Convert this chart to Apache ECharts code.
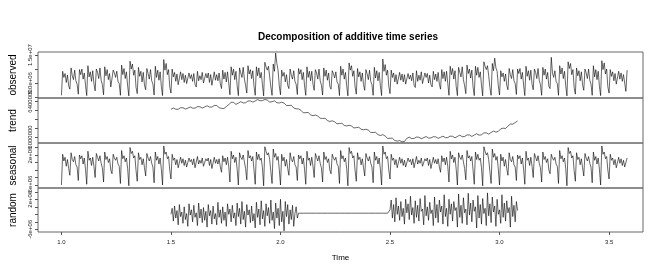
<!DOCTYPE html>
<html><head><meta charset="utf-8">
<script src="https://cdn.jsdelivr.net/npm/echarts@6/dist/echarts.min.js"></script>
<style>html,body{margin:0;padding:0;background:#fff}#c{width:667px;height:269px}</style>
</head><body><div id="c"></div>
<script>
// time series: start 1, frequency 182 (daily, half-year period)
const FREQ = 182, START = 1;
// observed (units of 1e5), 471 points
const observed = [
6,92,70,84,52,78,40, 28,104,76,62,96,58,46, 10,98,80,100,64,86,42, 5,112,72,90,56,94,48,
22,100,88,66,104,60,44, 8,108,76,98,62,84,36, 30,96,86,70,92,56,48, 6,114,80,102,66,90,40,
4,128,100,118,78,96,34, 12,106,74,92,54,88,42, 26,102,84,64,98,58,46, 7,110,70,96,60,90,38,
5,134,96,120,80,98,36, 14,100,72,88,56,82,44, 40,90,62,84,52,78,48, 46,86,66,80,56,84,44,
36,92,58,76,62,88,50, 48,84,68,86,52,80,42, 38,90,60,80,58,86,48, 30,96,64,88,54,90,50,
8,108,78,100,62,92,40, 5,104,86,70,106,64,42, 14,112,82,98,66,94,38, 6,108,76,104,68,88,44,
4,124,108,96,110,74,36, 6,118,92,157,120,96,40,
8,96,74,88,54,80,42, 30,100,78,64,94,56,46, 9,102,82,98,62,88,40, 6,108,70,92,58,92,46,
24,98,86,64,100,58,42, 7,104,74,96,60,86,38, 28,94,84,68,90,54,46, 5,110,78,100,64,88,40,
4,122,96,112,74,94,36, 10,102,72,90,56,86,44, 24,98,82,62,96,56,44, 6,106,68,94,58,88,40,
5,136,92,116,78,96,38, 12,96,70,86,54,80,46, 42,88,60,82,54,80,46, 44,84,64,78,58,86,42,
34,94,56,78,60,90,48, 46,86,70,84,50,78,44, 36,92,62,82,56,88,46, 28,98,66,90,56,92,48,
6,110,80,102,64,94,38, 5,106,88,72,108,62,40, 12,114,84,100,68,96,36, 5,110,78,106,70,90,42,
4,126,110,98,112,76,34, 6,120,94,139,104,92,40,
7,94,72,86,56,82,42, 26,102,80,66,98,58,48, 9,100,84,102,64,88,42, 5,110,74,94,60,96,46,
26,100,88,66,102,60,44, 6,106,78,100,64,88,38, 30,142,86,70,94,56,48, 6,112,82,104,66,92,40,
4,126,102,120,80,98,34, 10,104,76,94,58,90,44, 24,100,86,66,100,60,46, 6,112,72,98,62,92,38,
5,130,98,122,82,100,36, 14,98,74,90,58,84,46, 40,92,64,86,56,80,50,
20,96
];
// trend (units of 1e3), defined from index 91 to 379
const TREND_START = 91;
const trend = [
6308,6317,6322,6317,6308,6303,6308, 6316,6325,6330,6325,6315,6310,6315,
6320,6329,6334,6329,6320,6315,6320, 6327,6336,6341,6336,6326,6321,6326,
6333,6342,6347,6342,6332,6327,6332, 6340,6350,6356,6350,6334,6326,6322,
6318,6312,6316,6328,6338,6345,6358, 6378,6386,6392,6384,6372,6362,6366,
6376,6386,6392,6388,6378,6374,6380, 6390,6400,6406,6400,6392,6388,6394,
6400,6410,6416,6412,6402,6398,6404, 6410,6416,6418,6410,6396,6388,6392,
6392,6400,6402,6394,6380,6374,6378, 6380,6386,6386,6376,6360,6350,6352,
6350,6354,6352,6340,6322,6312,6312, 6310,6312,6308,6296,6278,6268,6270,
6270,6274,6272,6262,6246,6236,6236, 6240,6244,6242,6232,6218,6208,6210,
6206,6210,6208,6198,6182,6172,6172, 6176,6180,6178,6168,6154,6146,6148,
6150,6154,6152,6142,6128,6120,6122, 6126,6130,6130,6122,6108,6100,6102,
6104,6108,6108,6100,6086,6078,6080, 6082,6086,6086,6076,6060,6050,6050,
6050,6054,6052,6042,6026,6016,6016, 6024,6026,6022,6010,5994,5984,5984,
5986,5990,5986,5976,5960,5952,5954, 5958,5960,5954,5946,5940,5950,5970,
5985,5994,5998,5992,5982,5978,5984, 5990,5999,6003,5997,5986,5981,5987,
5992,6001,6005,5999,5988,5983,5989, 5994,6003,6007,6001,5990,5985,5991,
5996,6005,6009,6003,5992,5987,5993, 6000,6009,6013,6007,5996,5991,5998,
6006,6015,6020,6014,6003,5998,6005, 6014,6023,6028,6022,6011,6006,6013,
6022,6031,6036,6031,6020,6016,6024, 6036,6045,6050,6046,6036,6032,6040,
6050,6060,6066,6063,6054,6052,6062, 6078,6090,6098,6098,6092,6094,6106,
6120,6134,6144,6146,6142,6146,6160, 6170,6178
];
// seasonal figure, one period of 182 days (units of 1e5)
const seasonalFigure = [
-60,22,4,14,-10,8,-16, -34,26,8,2,16,-6,-12, -48,20,10,18,-4,12,-18, -58,30,6,12,-8,14,-10,
-40,24,14,4,18,-2,-14, -52,28,8,16,0,10,-20, -30,22,12,6,14,-4,-10, -56,32,10,18,2,12,-16,
-62,40,24,30,12,18,-22, -50,26,8,14,-6,10,-14, -36,24,12,4,16,-2,-12, -54,28,6,16,-4,12,-18,
-60,44,22,28,10,16,-20, -44,22,6,12,-6,8,-14, -14,14,-2,10,-8,6,-12, -10,12,2,8,-6,10,-14,
-16,16,-4,6,-2,12,-10, -12,10,4,12,-8,8,-16, -18,14,-2,8,-4,10,-12, -26,18,2,12,-6,14,-10,
-52,30,10,20,0,14,-18, -60,26,14,8,20,2,-16, -46,32,12,18,4,16,-20, -58,28,8,22,6,12,-14,
-62,42,30,20,26,8,-24, -56,36,14,24,6,16,-18
];
// random (units of 1e5), defined from index 91 to 379
const random = [
-20,-4,-38,2,-30,-10,-48, 6,-26,-14,-44,0,-34,-18, -52,8,-22,-8,-40,4,-28,
-16,-50,10,-30,-6,-42,-2, -36,-12,-54,6,-24,-10,-46, 2,-32,-18,-48,12,-28,-8,
-44,0,-36,-14,-52,8,-20, -6,-40,4,-30,-16,-50,10, -26,-4,-46,14,-34,-12,-54,
6,-22,-8,-42,2,-38,-18, -56,12,-28,-6,-48,16,-32, -10,-52,8,-24,-2,-44,18,
-36,-14,-58,10,-30,-4,-50, 20,-40,-12,-64,14,-26,6, -46,-8,-34,4,-52,-18,0, -30,
-17,-17,-17,-17,-17,-17,-17,-17,-17,-17,-17,-17,-17,-17,-17,-17,-17,-17,-17,-17,
-17,-17,-17,-17,-17,-17,-17,-17,-17,-17,-17,-17,-17,-17,-17,-17,-17,-17,-17,-17,
-17,-17,-17,-17,-17,-17,-17,-17,-17,-17,-17,-17,-17,-17,-17,-17,-17,-17,-17,-17,
-17,-17,-17,-17,-17,-17,-17,-17,-17,-17,-17,-17,-17,-17,-17,-17,
-8,18,-30,6,-40,24,-20, 2,-36,14,-26,-4,-46,20, -16,8,-34,28,-22,-2,-44,
16,-28,4,-38,22,-12,-6, -48,30,-24,0,-36,12,-18, -8,-50,26,-30,6,-42,18,
-14,2,-46,32,-26,-4,-52, 20,-20,8,-38,14,-10,-2, -54,34,-28,4,-44,24,-16,
-6,-48,36,-22,10,-40,18, -12,0,-56,30,-30,6,-46, 22,-18,-4,-50,37,-24,8,
-42,26,-14,2,-52,20,-20, -8,-44,32,-28,10,-38,16, -16,-2,-54,28,-26,4,-40, 14,-10
];
// axis ticks and labels
const xTicks = [1.0, 1.5, 2.0, 2.5, 3.0, 3.5];
const obsTicks = [0, 5e6, 1e7, 1.5e7];
const obsLabels = [[5e6, '5.0e+06'], [1.5e7, '1.5e+07']];
const trendTicks = [6.0e6, 6.1e6, 6.2e6, 6.3e6, 6.4e6];
const trendLabels = [[6.0e6, '6000000'], [6.4e6, '6400000']];
const seasTicks = [-6e6, -4e6, -2e6, 0, 2e6, 4e6];
const seasLabels = [[-6e6, '-6e+06'], [2e6, '2e+06']];
const randTicks = [-6e6, -4e6, -2e6, 0, 2e6, 4e6];
const randLabels = [[-6e6, '-6e+06'], [2e6, '2e+06']];

const tOf = i => START + i / FREQ;
const obsData = observed.map((v, i) => [tOf(i), v * 1e5]);
const trendData = trend.map((v, k) => [tOf(TREND_START + k), v * 1e3]);
const seasData = observed.map((_, i) => [tOf(i), seasonalFigure[i % FREQ] * 1e5]);
const randData = random.map((v, k) => [tOf(TREND_START + k), v * 1e5]);

const FONT = 'Liberation Sans';
const XMIN = 0.893, XMAX = 3.655;
const panels = [
  {name: 'observed', top: 52, height: 46, min: -3.6e5, max: 1.61e7, ticks: obsTicks, labels: obsLabels, data: obsData},
  {name: 'trend', top: 98, height: 45, min: 5.933e6, max: 6.433e6, ticks: trendTicks, labels: trendLabels, data: trendData},
  {name: 'seasonal', top: 143, height: 45, min: -6.8e6, max: 5.2e6, ticks: seasTicks, labels: seasLabels, data: seasData},
  {name: 'random', top: 188, height: 44, min: -6.7e6, max: 5.0e6, ticks: randTicks, labels: randLabels, data: randData}
];
const grid = [], xAxis = [], yAxis = [], series = [];
panels.forEach((p, i) => {
  grid.push({left: 36, width: 607, top: p.top, height: p.height, show: true, borderColor: '#666', borderWidth: 1, backgroundColor: 'transparent'});
  const last = i === panels.length - 1;
  xAxis.push({
    gridIndex: i, type: 'value', min: XMIN, max: XMAX, show: last, position: 'bottom',
    name: last ? 'Time' : '', nameLocation: 'middle', nameGap: 22,
    nameTextStyle: {fontSize: 8, fontFamily: FONT, color: '#000'},
    axisLine: {show: false, onZero: false}, splitLine: {show: false},
    axisTick: {show: last, length: 3, customValues: xTicks, lineStyle: {color: '#555'}},
    axisLabel: {show: last, customValues: xTicks, formatter: v => v.toFixed(1), fontSize: 6, fontFamily: FONT, color: '#222', margin: 7, hideOverlap: false}
  });
  const labVals = p.labels.map(l => l[0]);
  yAxis.push({
    gridIndex: i, type: 'value', min: p.min, max: p.max, position: 'left',
    name: p.name, nameLocation: 'middle', nameGap: 20, nameRotate: 90,
    nameTextStyle: {fontSize: 10, fontFamily: FONT, color: '#000'},
    axisLine: {show: false, onZero: false}, splitLine: {show: false},
    axisTick: {show: true, length: 3, customValues: p.ticks, lineStyle: {color: '#555'}},
    axisLabel: {customValues: labVals, rotate: 90, fontSize: 6, fontFamily: FONT, color: '#222', margin: 5,
      hideOverlap: false, showMinLabel: true, showMaxLabel: true,
      formatter: v => { const f = p.labels.find(l => Math.abs(l[0] - v) < 1); return f ? f[1] : ''; }}
  });
  series.push({type: 'line', xAxisIndex: i, yAxisIndex: i, data: p.data, showSymbol: false, symbol: 'none',
    lineStyle: {color: '#000', width: 0.6}, silent: true, animation: false});
});
const chart = echarts.init(document.getElementById('c'), null, {renderer: 'canvas'});
chart.setOption({
  animation: false,
  backgroundColor: '#fff',
  title: {text: 'Decomposition of additive time series', left: 343, top: 27, textAlign: 'center',
    textStyle: {fontSize: 10, fontWeight: 'bold', fontFamily: FONT, color: '#000'}},
  grid, xAxis, yAxis, series
});
</script></body></html>
